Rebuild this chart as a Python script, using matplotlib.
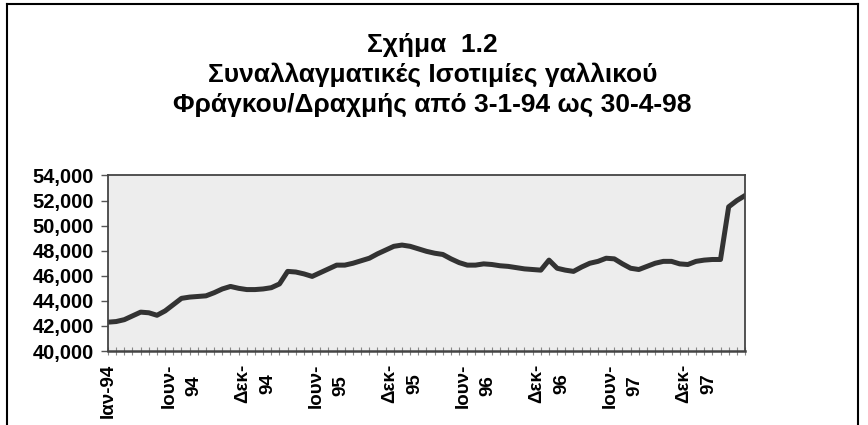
import numpy as np
import matplotlib
matplotlib.use("Agg")
import matplotlib.pyplot as plt
from matplotlib.lines import Line2D

plt.rcParams['font.family'] = ['Liberation Sans', 'DejaVu Sans']

# exchange rate FRF/GRD (one point per category)
rates = [42300, 42350, 42500, 42800, 43100, 43050, 42850, 43200, 43700, 44200,
         44300, 44350, 44400, 44650, 44950, 45150, 45000, 44900, 44900, 44950,
         45050, 45350, 46350, 46300, 46150, 45950, 46250, 46550, 46850, 46850,
         47000, 47200, 47400, 47750, 48050, 48350, 48450, 48350, 48150, 47950,
         47800, 47700, 47350, 47050, 46850, 46850, 46950, 46900, 46800, 46750,
         46650, 46550, 46500, 46450, 47250, 46600, 46450, 46350, 46700, 47000,
         47150, 47400, 47350, 46950, 46600, 46500, 46750, 47000, 47150, 47150,
         46950, 46900, 47150, 47250, 47300, 47300, 51500, 52000, 52400]

# category labels shown on the x axis (every 9th category)
tick_labels = ['Ιαν-94', 'Ιουν-\n94', 'Δεκ-\n94', 'Ιουν-\n95', 'Δεκ-\n95',
               'Ιουν-\n96', 'Δεκ-\n96', 'Ιουν-\n97', 'Δεκ-\n97']
label_step = 9

y_ticks = [40000, 42000, 44000, 46000, 48000, 50000, 52000, 54000]

title_lines = ['Σχήμα  1.2',
               'Συναλλαγματικές Ισοτιμίες γαλλικού',
               'Φράγκου/Δραχμής από 3-1-94 ως 30-4-98']

fig = plt.figure(figsize=(8.68, 4.25), dpi=100)
ax = fig.add_axes([0.1244, 0.1741, 0.7339, 0.413])
ax.set_facecolor('#ededed')

x = np.arange(len(rates))
ax.plot(x, rates, color='#333333', lw=3.6, solid_joinstyle='round')

ax.set_xlim(0, len(rates) - 1)
ax.set_ylim(40000, 54000)
ax.set_yticks(y_ticks)
ax.set_yticklabels([f'{v:,}' for v in y_ticks], fontsize=14.5, fontweight='bold')
ax.tick_params(axis='y', length=5, width=1, color='#555555', pad=5)

# every category gets a small tick, labels only every label_step
ax.set_xticks(x, minor=True)
ax.set_xticks(x[::label_step][:len(tick_labels)])
ax.set_xticklabels(tick_labels, rotation=90, fontsize=13.5, fontweight='bold',
                   va='top', ha='center', linespacing=1.6)
ax.tick_params(axis='x', which='both', direction='inout', length=6,
               width=0.8, color='#888888', pad=6)

for s in ax.spines.values():
    s.set_color('#444444')
    s.set_linewidth(1.3)
ax.spines['bottom'].set_linewidth(1.8)

# title, three centred lines
for i, t in enumerate(title_lines):
    fig.text(0.498, 0.877 - i * 0.07, t, ha='center', va='baseline',
             fontsize=19, fontweight='bold')

# frame around the whole chart
fig.add_artist(Line2D([0.008, 0.008], [0.0, 0.99], color='black', lw=1.5))
fig.add_artist(Line2D([0.008, 0.988], [0.99, 0.99], color='black', lw=1.5))
fig.add_artist(Line2D([0.988, 0.988], [0.0, 0.99], color='black', lw=1.5))

fig.savefig('out.png', dpi=100)
